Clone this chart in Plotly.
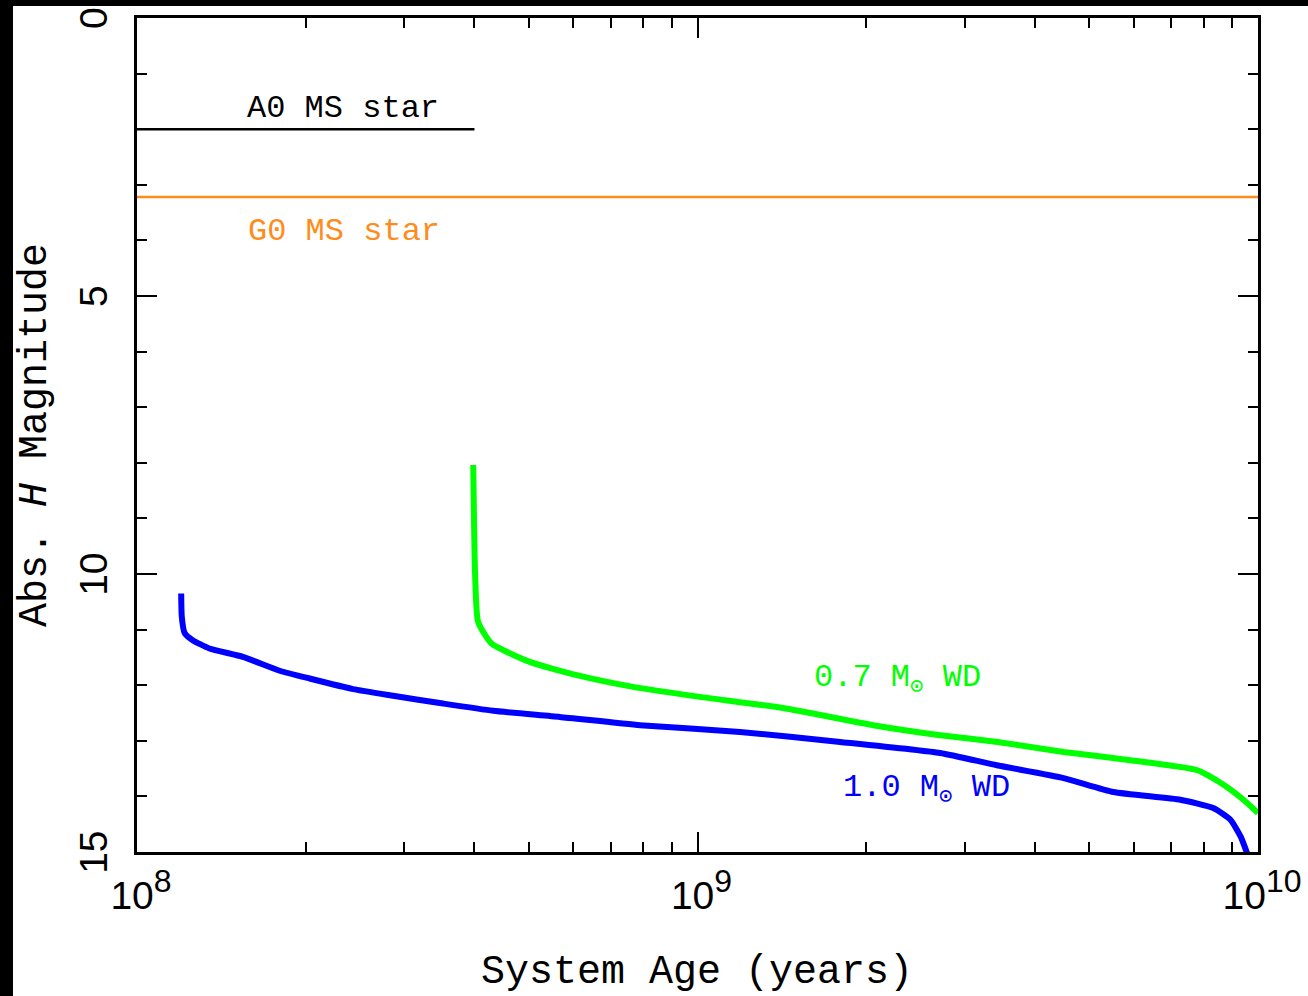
import plotly.graph_objects as go

# 1.0 Msun white dwarf cooling track
wd10_age = [1.199e8, 1.202e8, 1.216e8, 1.257e8, 1.347e8, 1.545e8, 1.797e8, 2.032e8,
            2.429e8, 2.863e8, 3.516e8, 4.32e8, 5.68e8, 7.90e8, 1.191e9, 1.797e9,
            2.71e9, 3.42e9, 4.50e9, 5.52e9, 7.27e9, 8.32e9, 8.93e9, 9.31e9, 9.56e9]
wd10_mag = [10.35, 10.77, 11.06, 11.19, 11.34, 11.49, 11.74, 11.88,
            12.07, 12.19, 12.33, 12.46, 12.57, 12.72, 12.84, 13.02,
            13.22, 13.44, 13.67, 13.92, 14.06, 14.21, 14.42, 14.72, 15.02]

# 0.7 Msun white dwarf cooling track
wd07_age = [3.98e8, 4.01e8, 4.06e8, 4.29e8, 5.02e8, 6.09e8, 7.67e8, 1.010e9,
            1.421e9, 2.058e9, 2.71e9, 3.43e9, 4.50e9, 5.92e9, 7.80e9, 8.68e9,
            9.42e9, 1.0e10]
wd07_mag = [8.04, 9.98, 10.86, 11.25, 11.58, 11.82, 12.03, 12.21,
            12.41, 12.72, 12.90, 13.02, 13.20, 13.35, 13.53, 13.79,
            14.06, 14.30]

# Main-sequence reference stars
a0_age = [1e8, 4e8]
a0_mag = [2.0, 2.0]
g0_age = [1e8, 1e10]
g0_mag = [3.22, 3.22]

x_ticks = [1e8, 1e9, 1e10]
x_exponents = ["8", "9", "10"]
y_ticks = [0, 5, 10, 15]

x_ticktext = ["10<sup><span style='font-size:32px'>%s</span></sup>" % e for e in x_exponents]

fig = go.Figure()
fig.add_trace(go.Scatter(x=a0_age, y=a0_mag, mode="lines",
                         line=dict(color="black", width=2.5), showlegend=False))
fig.add_trace(go.Scatter(x=g0_age, y=g0_mag, mode="lines",
                         line=dict(color="#ff8c1a", width=2.5), showlegend=False))
fig.add_trace(go.Scatter(x=wd07_age, y=wd07_mag, mode="lines",
                         line=dict(color="#00ff00", width=6, shape="spline", smoothing=0.5),
                         showlegend=False))
fig.add_trace(go.Scatter(x=wd10_age, y=wd10_mag, mode="lines",
                         line=dict(color="#0000ff", width=6, shape="spline", smoothing=0.5),
                         showlegend=False))

mono = "Liberation Mono, Courier New, monospace"
tickfont = dict(family="Liberation Sans, Arial, sans-serif", size=39, color="black")

L, R, T, B = 137, 1258, 18, 852
W, H = R - L, B - T

def px(x):
    return (x - L) / W

def py(y):
    return (B - y) / H

fig.update_layout(
    width=1308, height=996,
    margin=dict(l=L, r=1308 - R, t=T, b=996 - B),
    paper_bgcolor="black",
    plot_bgcolor="white",
    showlegend=False,
    xaxis=dict(type="log", range=[7.99999, 10.00001], tickvals=x_ticks, ticktext=x_ticktext,
               ticks="inside", ticklen=20, tickwidth=2, tickcolor="black",
               showline=True, linecolor="black", linewidth=2.5, mirror="ticks",
               showgrid=False, zeroline=False, tickfont=tickfont, automargin=False,
               ticklabelstandoff=7, ticklabelshift=4,
               minor=dict(ticks="inside", ticklen=10, tickwidth=2, tickcolor="black",
                          dtick="D1", showgrid=False)),
    yaxis=dict(range=[15, 0], tickvals=y_ticks, tickangle=-90,
               ticks="inside", ticklen=20, tickwidth=2, tickcolor="black",
               showline=True, linecolor="black", linewidth=2.5, mirror="ticks",
               showgrid=False, zeroline=False, tickfont=tickfont, automargin=False,
               ticklabelstandoff=12, ticklabelshift=-6,
               minor=dict(ticks="inside", ticklen=10, tickwidth=2, tickcolor="black",
                          dtick=1, showgrid=False)),
    shapes=[dict(type="rect", xref="paper", yref="paper",
                 x0=px(13), x1=px(1320), y0=py(1010), y1=py(6),
                 fillcolor="white", line=dict(width=0), layer="below")],
)

labels = [
    ("A0 MS star", 343, 108, 32, "black", 0),
    ("G0 MS star", 344, 232, 32, "#ff8c1a", 0),
    ("0.7 M<sub>⊙</sub> WD", 897, 679, 32, "#00ff00", 0),
    ("1.0 M<sub>⊙</sub> WD", 926, 789, 32, "#0000ff", 0),
    ("System Age (years)", 697, 972, 40, "black", 0),
    ("Abs. <i>H</i> Magnitude", 35, 435, 40, "black", -90),
]
for text, x, y, size, color, ang in labels:
    fig.add_annotation(text=text, x=px(x), y=py(y), xref="paper", yref="paper",
                       xanchor="center", yanchor="middle", showarrow=False,
                       textangle=ang, font=dict(family=mono, size=size, color=color))

fig.write_html("out.html")
